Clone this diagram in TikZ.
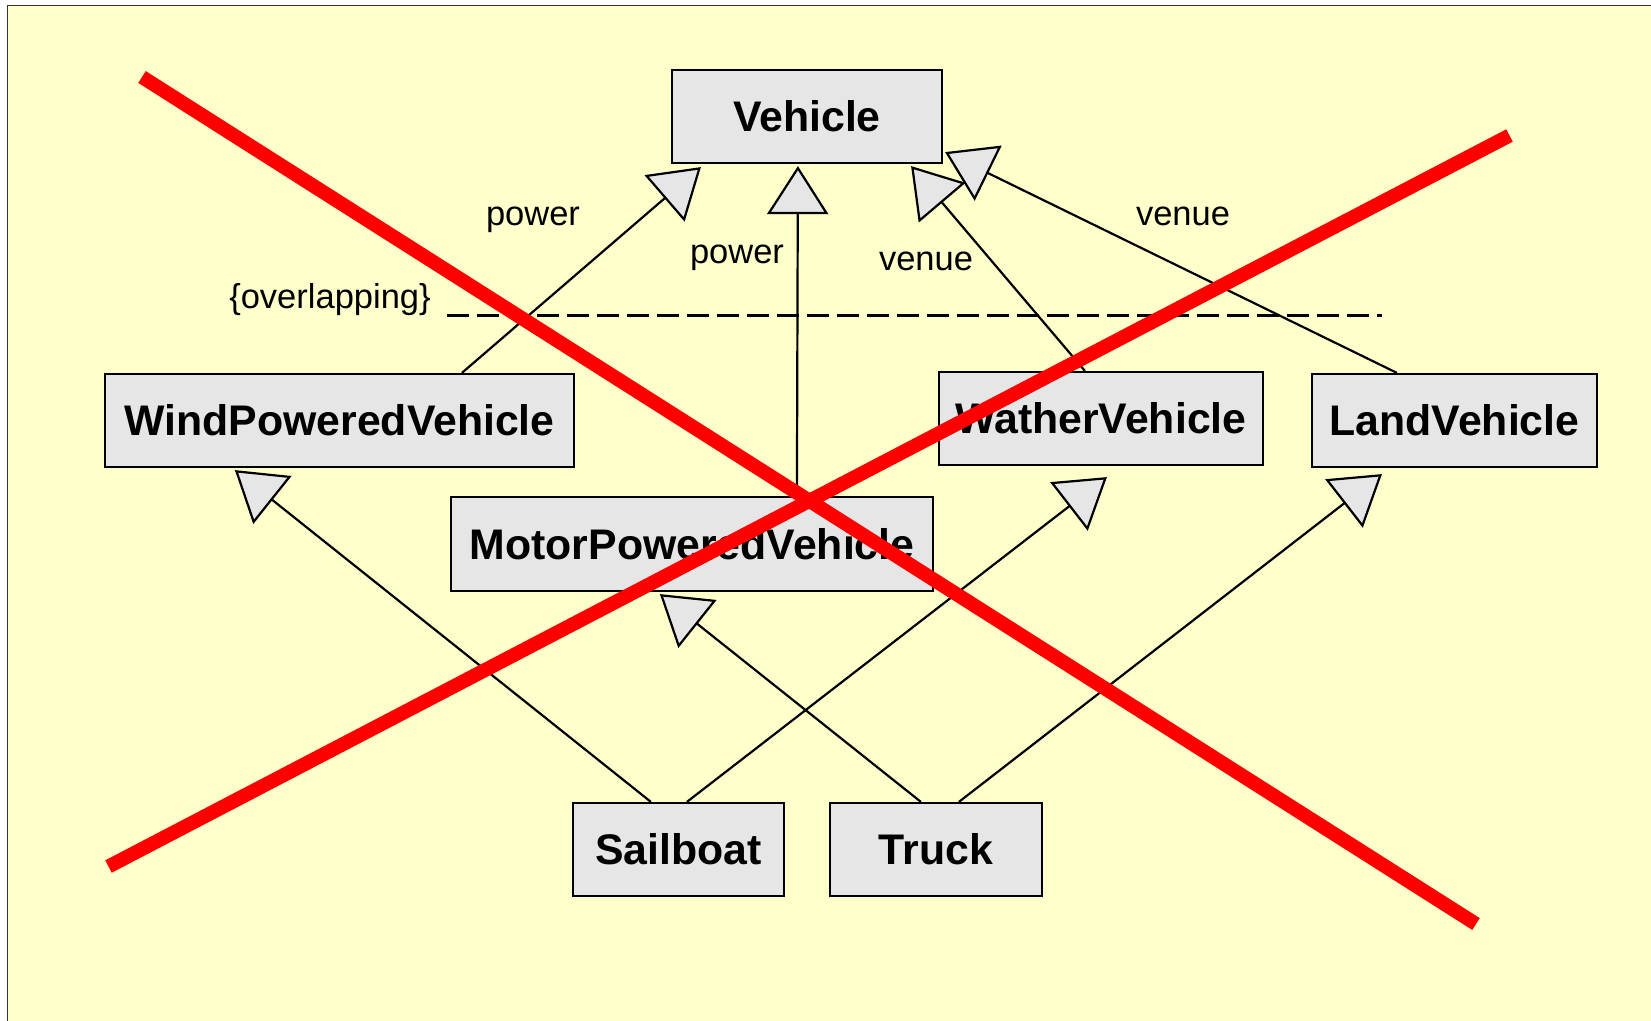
\documentclass[tikz,border=0pt]{standalone}
\usepackage{fontspec}
\setmainfont{Liberation Sans}
\usetikzlibrary{arrows.meta,calc}
\definecolor{paper}{HTML}{FFFFCC}
\definecolor{boxgray}{HTML}{E6E6E6}
\definecolor{framegray}{HTML}{333333}
\definecolor{crossred}{HTML}{FF0000}

\begin{document}
\begin{tikzpicture}[x=1pt,y=-1pt,
  classbox/.style={draw=black, line width=2.2pt, fill=boxgray, inner sep=0pt,
    minimum height=93pt, font=\fontsize{42.8}{50}\selectfont\bfseries},
  rolelabel/.style={font=\fontsize{34.5}{41}\selectfont, inner sep=0pt, anchor=base},
  gen/.style={line width=2.2pt, -{Triangle[length=48pt, width=61pt, fill=boxgray]}},
  cross/.style={crossred, line width=14pt, line cap=butt},
  setline/.style={line width=3pt, dash pattern=on 22pt off 8pt},
]
\useasboundingbox (0,0) rectangle (1651,1020);
\clip (0,0) rectangle (1651,1020);
\fill[white] (0,0) rectangle (1651,1020);
% sheet with its frame
\draw[framegray, line width=1.5pt, fill=paper] (7.5,5.5) rectangle (1700,1080);

% classes
\node[classbox, minimum width=270pt] (vehicle) at (807,116.5) {Vehicle};
\node[classbox, minimum width=469pt] (wind) at (339.5,420.5) {WindPoweredVehicle};
\node[classbox, minimum width=482pt, minimum height=94pt] (motor) at (692,544) {MotorPoweredVehicle};
\node[classbox, minimum width=324pt] (wather) at (1101,418.5) {WatherVehicle};
\node[classbox, minimum width=285pt] (land) at (1454.5,420.5) {LandVehicle};
\node[classbox, minimum width=211pt] (sailboat) at (678.5,849.5) {Sailboat};
\node[classbox, minimum width=212pt] (truck) at (936,849.5) {Truck};

% discriminator labels
\node[rolelabel] (powerA) at (533,225) {power};
\node[rolelabel] (powerB) at (737,263) {power};
\node[rolelabel] (venueA) at (926,270) {venue};
\node[rolelabel] (venueB) at (1183,225) {venue};
\node[rolelabel] (ovl) at (330,308) {\{overlapping\}};

% generalization set line
\coordinate (setL) at (447,315);
\coordinate (setR) at (1382,315);
\draw[setline] (setL) -- (setR);

% generalizations
\draw[gen] ($(wind.north west)+(358,0)$) -- ($(vehicle.south west)+(30,3)$);
\draw[gen] ($(motor.north west)+(347,0)$) -- ($(vehicle.south west)+(127,2)$);
\draw[gen] ($(wather.north west)+(147,0)$) -- ($(vehicle.south east)+(-32,2)$);
\draw[gen] ($(land.north west)+(86,0)$) -- ($(vehicle.south east)+(2,-12)$);
\draw[gen] ($(sailboat.north west)+(79,0)$) -- ($(wind.south west)+(131,2)$);
\draw[gen] ($(truck.north west)+(92,0)$) -- ($(motor.south west)+(210,2)$);
\draw[gen] ($(sailboat.north west)+(115,0)$) -- ($(wather.south west)+(169,11)$);
\draw[gen] ($(truck.north west)+(130,0)$) -- ($(land.south west)+(71,6)$);

% the cross struck over the diagram
\coordinate (xTL) at (142,77);
\coordinate (xBR) at (1476,924);
\coordinate (xBL) at (108.5,866.5);
\coordinate (xTR) at (1509.5,135.5);
\draw[cross] (xTL) -- (xBR);
\draw[cross] (xBL) -- (xTR);
\end{tikzpicture}
\end{document}
